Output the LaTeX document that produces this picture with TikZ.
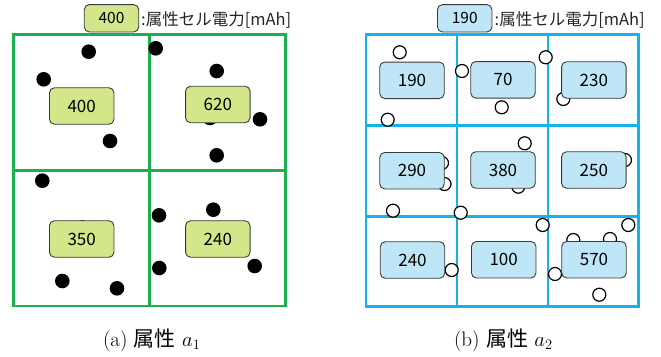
\documentclass[tikz,border=0pt]{standalone}
\usepackage{fontspec}
\newfontfamily\jp{Noto Sans CJK JP}
\definecolor{gridgreen}{HTML}{1DB04F}
\definecolor{gridblue}{HTML}{13B4EE}
\definecolor{fillgreen}{HTML}{D3E68A}
\definecolor{fillblue}{HTML}{BEE6F6}
\definecolor{edgegray}{HTML}{3A3A3A}
\begin{document}
\begin{tikzpicture}[x=1pt,y=-1pt,
  gridA/.style={draw=gridgreen, line width=2.6pt},
  gridB/.style={draw=gridblue, line width=2.6pt},
  valA/.style={draw=edgegray, fill=fillgreen, rounded corners=5pt, line width=0.9pt,
    minimum width=64.5pt, minimum height=36.5pt, inner sep=0pt,
    font=\jp\fontsize{17}{17}\selectfont},
  valB/.style={valA, fill=fillblue},
  keyA/.style={valA, minimum width=54.5pt, minimum height=27.3pt,
    font=\jp\fontsize{15.5}{15.5}\selectfont},
  keyB/.style={keyA, fill=fillblue},
  keytext/.style={anchor=west, inner sep=0pt, text=black!85,
    font=\jp\fontsize{16.5}{16.5}\selectfont},
  blackdot/.style={circle, fill=black, minimum size=14.6pt, inner sep=0pt},
  ring/.style={circle, draw=black, fill=white, line width=1.2pt, minimum size=13pt, inner sep=0pt},
  capt/.style={font=\fontsize{21}{21}\selectfont, inner sep=0pt}
]
\useasboundingbox (0,0) rectangle (661,356);

% ---------- attribute a1: 2x2 cells ----------
\draw[gridA] (13.3,34.3) rectangle (285.7,306);
\draw[gridA] (149.3,34.3) -- (149.3,306);
\draw[gridA] (13.3,170.3) -- (285.7,170.3);

\node[blackdot] (p1) at (88.7,51.7) {};
\node[blackdot] (p2) at (43.7,79.3) {};
\node[blackdot] (p3) at (155.7,48.3) {};
\node[blackdot] (p4) at (216.7,71) {};
\node[blackdot] (p5) at (110,141) {};
\node[blackdot] (p6) at (260,119.3) {};
\node[blackdot] (p7) at (210,118) {};
\node[blackdot] (p8) at (216.7,155.3) {};
\node[blackdot] (p9) at (42.3,180.7) {};
\node[blackdot] (p10) at (82.5,227.5) {};
\node[blackdot] (p11) at (62.3,281) {};
\node[blackdot] (p12) at (117,288.3) {};
\node[blackdot] (p13) at (159,215.3) {};
\node[blackdot] (p14) at (213.3,209.7) {};
\node[blackdot] (p15) at (159.3,268) {};
\node[blackdot] (p16) at (254.7,266) {};

\node[valA] (a11) at (81.7,106) {400};
\node[valA] (a12) at (217.8,104.5) {620};
\node[valA] (a21) at (81.7,239) {350};
\node[valA] (a22) at (217.8,239) {240};

\node[keyA] (keya) at (111.5,18.3) {400};
\node[keytext] (keyatext) at (141,19.5) {:属性セル電力[mAh]};

\node[capt] (capa) at (151.7,340) {(a) {\jp 属性} $a_1$};

% ---------- attribute a2: 3x3 cells ----------
\draw[gridB] (366,34.3) rectangle (638.3,306.3);
\draw[gridB] (457,34.3) -- (457,306.3);
\draw[gridB] (548,34.3) -- (548,306.3);
\draw[gridB] (366,125.3) -- (638.3,125.3);
\draw[gridB] (366,216.3) -- (638.3,216.3);

\node[ring] (q1) at (399.7,52.3) {};
\node[ring] (q2) at (462,71) {};
\node[ring] (q3) at (545.7,57.3) {};
\node[ring] (q4) at (501.7,107.3) {};
\node[ring] (q5) at (563.3,99) {};
\node[ring] (q6) at (387.7,119.7) {};
\node[ring] (q7) at (524.7,143.3) {};
\node[ring] (q8) at (625,160) {};
\node[ring] (q9) at (442,163) {};
\node[ring] (q10) at (444.5,184) {};
\node[ring] (q11) at (518.3,186.7) {};
\node[ring] (q12) at (393,210.7) {};
\node[ring] (q13) at (460.7,212.7) {};
\node[ring] (q14) at (542.7,225) {};
\node[ring] (q15) at (628.3,225) {};
\node[ring] (q16) at (573.3,240) {};
\node[ring] (q17) at (610,239) {};
\node[ring] (q18) at (451.7,270) {};
\node[ring] (q19) at (555,274) {};
\node[ring] (q20) at (599.3,294.7) {};

\node[valB] (b11) at (412,80.3) {190};
\node[valB] (b12) at (503,79.8) {70};
\node[valB] (b13) at (593.8,80) {230};
\node[valB] (b21) at (412,170.7) {290};
\node[valB] (b22) at (503,170) {380};
\node[valB] (b23) at (593.8,170) {250};
\node[valB] (b31) at (412.5,260) {240};
\node[valB] (b32) at (503.7,259.7) {100};
\node[valB] (b33) at (594,259.7) {570};

\node[keyB] (keyb) at (464.7,18.3) {190};
\node[keytext] (keybtext) at (494.5,19.5) {:属性セル電力[mAh]};

\node[capt] (capb) at (503.3,340) {(b) {\jp 属性} $a_2$};
\end{tikzpicture}
\end{document}
